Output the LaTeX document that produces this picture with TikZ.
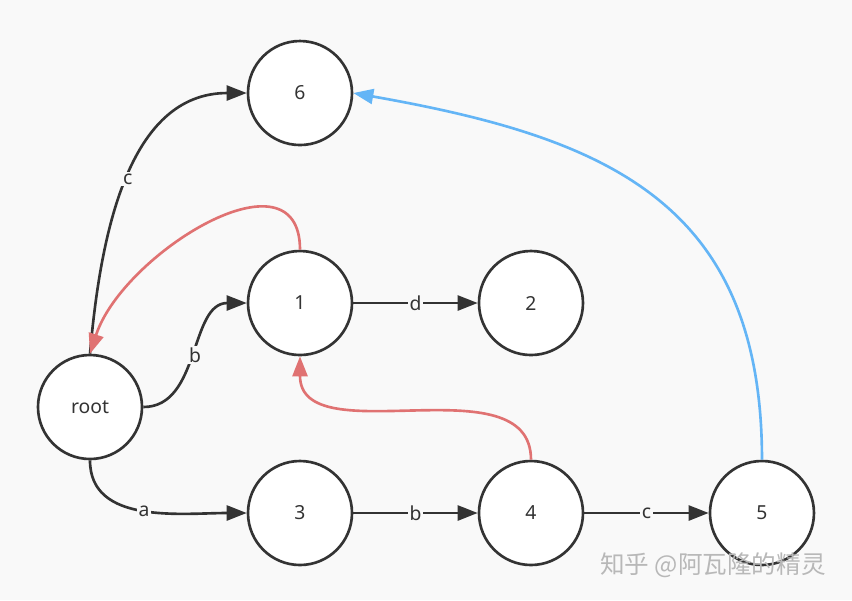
\documentclass[tikz,border=0pt]{standalone}
\usepackage{fontspec}
\setmainfont{Noto Sans}
\newfontfamily\cjkfont{Noto Sans CJK SC}
\usepackage{xcolor}
\usetikzlibrary{arrows.meta, positioning}

\definecolor{pagebg}{HTML}{F9F9F9}
\definecolor{inkline}{HTML}{333333}
\definecolor{backred}{HTML}{E07272}
\definecolor{linkblue}{HTML}{64B5F6}

\begin{document}
\begin{tikzpicture}[
        node distance=2.067cm and 2.487cm,
        state/.style={circle, draw=inkline, line width=1.5pt, fill=white, minimum size=2.08cm, inner sep=0pt, text=inkline, font=\fontsize{11}{13}\selectfont},
        arrow/.style={line width=1.5pt, draw=inkline, -{Triangle[length=0.4cm, width=0.3cm]}},
        lbl/.style={fill=pagebg, inner sep=1pt, text=inkline, font=\fontsize{11}{13}\selectfont},
        fail/.style={arrow, draw=backred, color=backred},
        jump/.style={arrow, draw=linkblue, color=linkblue}
        ]

        % page
        \fill[pagebg] (-1.8,-3.86) rectangle (15.24,8.14);
        \useasboundingbox (-1.8,-3.86) rectangle (15.24,8.14);

        % Nodes
        \node (root) [state] at (0,0) {root};
        \node (three) [state] at (4.2,-2.12) {3};
        \node (four) [state, right=of three] {4};
        \node (five) [state, right=of four] {5};
        \node (one) [state, above=of three] {1};
        \node (two) [state, right=of one] {2};
        \node (six) [state, above=of one] {6};

        % Trie edges
        \draw [arrow] (root.north) to[out=85, in=180] node[lbl] {c} (six.west);
        \draw [arrow] (root.east) to[out=0, in=180] node[lbl] {b} (one.west);
        \draw [arrow] (root.south) to[out=-90, in=180] node[lbl] {a} (three.west);
        \draw [arrow] (one) -- node[lbl] {d} (two);
        \draw [arrow] (three) -- node[lbl] {b} (four);
        \draw [arrow] (four) -- node[lbl] {c} (five);

        % Fail links
        \draw [fail] (one.north) to[out=90, in=72, looseness=1.15] (root.north);
        \draw [fail] (four.north) to[out=90, in=-90] (one.south);
        \draw [jump] (five.north) to[out=90, in=-10, looseness=1.2] (six.east);

        % watermark
        \node (mark) at (12.46,-3.16) {\cjkfont\fontsize{14}{16}\selectfont\color{black!28}知乎 @阿瓦隆的精灵};

\end{tikzpicture}
\end{document}
